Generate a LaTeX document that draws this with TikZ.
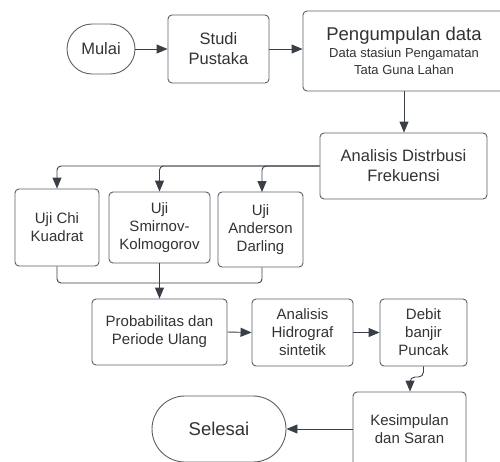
\documentclass[tikz,border=0pt]{standalone}
\usepackage{fontspec}
\setmainfont{Liberation Sans}
\usetikzlibrary{arrows.meta}
\definecolor{txt}{HTML}{333333}
\definecolor{edge}{HTML}{5C6066}
\definecolor{conn}{HTML}{3A3F47}
\begin{document}
\begin{tikzpicture}[x=1pt,y=-1pt,
  box/.style={draw=edge,line width=0.9pt,rounded corners=4pt,rectangle,align=center,text=txt,inner sep=0pt,
    font=\fontsize{15}{18}\selectfont},
  bigbox/.style={box,font=\fontsize{16.5}{20}\selectfont},
  arr/.style={draw=conn,line width=0.9pt,-{Triangle[length=11pt,width=9pt]}},
  ln/.style={draw=conn,line width=0.9pt}]
\clip (0,0) rectangle (500,461);
\fill[white] (0,0) rectangle (500,461);
\node[bigbox,rounded corners=25pt,minimum width=68pt,minimum height=50pt] (mulai) at (101,49) {Mulai};
\node[bigbox,minimum width=101pt,minimum height=68pt] (studi) at (218.5,49) {Studi\\Pustaka};
\node[box,minimum width=202pt,minimum height=80pt] (peng) at (404,51)
  {{\fontsize{18.5}{20}\selectfont Pengumpulan data}\\[-1pt]{\fontsize{13}{16}\selectfont Data stasiun Pengamatan}\\[-1pt]{\fontsize{13}{16}\selectfont Tata Guna Lahan}};
\node[bigbox,minimum width=167pt,minimum height=66pt] (anal) at (403.5,166) {Analisis Distrbusi\\Frekuensi};
\node[box,minimum width=84pt,minimum height=77pt] (chi) at (57,227.5) {Uji Chi\\Kuadrat};
\node[box,minimum width=101pt,minimum height=71pt] (smir) at (159.5,227.5) {Uji\\Smirnov-\\Kolmogorov};
\node[box,minimum width=85pt,minimum height=75pt] (and) at (260.5,229.5) {Uji\\Anderson\\Darling};
\node[box,minimum width=135pt,minimum height=66pt] (prob) at (159.5,332) {Probabilitas dan\\Periode Ulang};
\node[box,minimum width=101pt,minimum height=67pt] (hid) at (302.5,332.5) {Analisis\\Hidrograf\\sintetik};
\node[box,minimum width=87pt,minimum height=67pt] (deb) at (423.5,332.5) {Debit\\banjir\\Puncak};
\node[box,minimum width=113pt,minimum height=74pt] (kes) at (409.5,429) {Kesimpulan\\dan Saran};
\node[box,rounded corners=33pt,minimum width=134pt,minimum height=66pt,font=\fontsize{18.5}{22}\selectfont] (sel) at (219,429) {Selesai};
\coordinate (m1) at (57,283);
\coordinate (m2) at (262,283);
\draw[arr] (mulai.east) -- (studi.west);
\draw[arr] (studi.east) -- (studi.east -| peng.west);
\draw[arr] (peng.south) -- (peng.south |- anal.north);
\draw[arr,rounded corners=4pt] (anal.west) -| (chi.north);
\draw[arr,rounded corners=4pt] (anal.west) -| (smir.north);
\draw[arr,rounded corners=4pt] (anal.west) -| (262,192);
\draw[ln,rounded corners=4pt] (chi.south) -- (m1) -- (m2) -- (m2 |- and.south);
\draw[arr] (smir.south) -- (prob.north);
\draw[arr] (prob.east) -- (hid.west);
\draw[arr] (hid.east) -- (deb.west);
\draw[arr,rounded corners=5pt] (deb.south) -- (423.5,377) -- (410,377) -- (kes.north -| 410,0);
\draw[arr] (kes.west) -- (sel.east);
\end{tikzpicture}
\end{document}
